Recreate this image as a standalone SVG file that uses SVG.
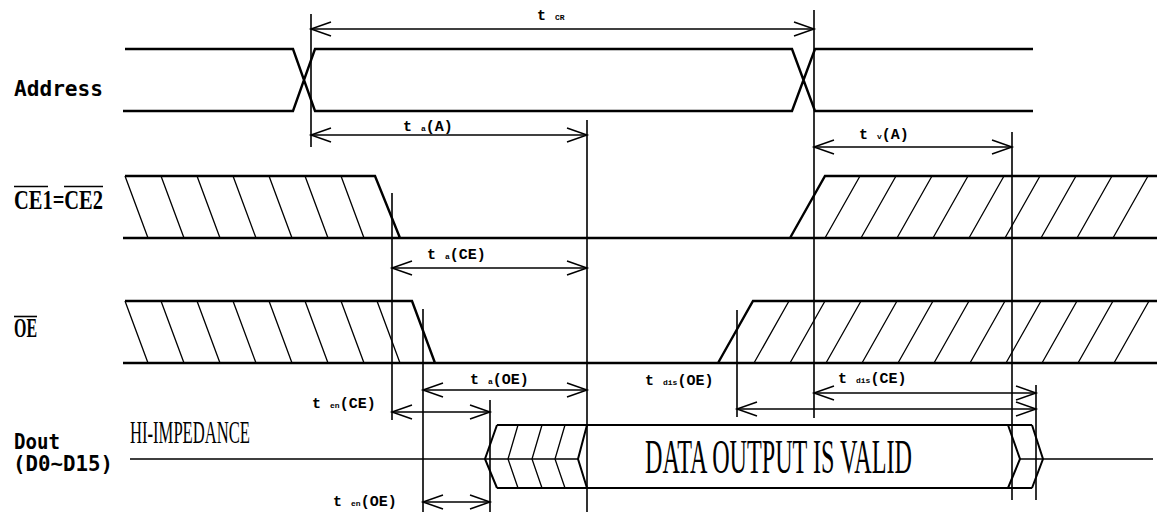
<svg xmlns="http://www.w3.org/2000/svg" width="1164" height="515" viewBox="0 0 1164 515">
<defs>
<marker id="ah" markerUnits="userSpaceOnUse" markerWidth="30" markerHeight="20" viewBox="-22 -10 24 20" refX="0" refY="0" orient="auto-start-reverse">
<path d="M-20,-7 L0,0 L-20,7" fill="none" stroke="#000" stroke-width="1.5"/>
</marker>
</defs>
<style>
.sig{fill:none;stroke:#000;stroke-width:2.4;stroke-linejoin:miter}
.hat{fill:none;stroke:#000;stroke-width:1.3}
.ref{fill:none;stroke:#000;stroke-width:1.6}
.dim{fill:none;stroke:#000;stroke-width:1.5;marker-start:url(#ah);marker-end:url(#ah)}
.lbl{font-family:"Liberation Mono","DejaVu Sans Mono",monospace;font-size:15px;font-weight:bold;fill:#000}
.sub{font-size:8px}
.name{font-family:"DejaVu Sans Mono","Liberation Mono",monospace;font-size:21px;font-weight:bold;fill:#000}
.ser{font-family:"Liberation Serif","DejaVu Serif",serif;fill:#000}
</style>
<rect width="1164" height="515" fill="#fff"/>

<g id="address">
<text class="name" x="14" y="96" textLength="89" lengthAdjust="spacingAndGlyphs">Address</text>
<path class="sig" d="M125,49 H293 L315,111 H792 L815,49 H1033 M123,111 H293 L315,49 H792 L815,111 H1033"/>
</g>

<g id="ce">
<text class="ser" x="14" y="209" font-size="27" font-weight="bold" textLength="89" lengthAdjust="spacingAndGlyphs">CE1=CE2</text>
<path class="ref" d="M14,186.5 H48 M64,186.5 H103"/>
<path class="sig" d="M125,176 H375 L400,238 M123,238 H1157 M790,238 L825,176 H1157"/>
<path class="hat" d="M125,176 l23,62 M161,176 l23,62 M197,176 l23,62 M233,176 l23,62 M269,176 l23,62 M305,176 l23,62 M341,176 l23,62
M860,176 l-35,62 M896,176 l-35,62 M932,176 l-35,62 M968,176 l-35,62 M1004,176 l-35,62 M1040,176 l-35,62 M1076,176 l-35,62 M1112,176 l-35,62 M1148,176 l-35,62"/>
</g>

<g id="oe">
<text class="ser" x="14" y="337" font-size="27" font-weight="bold" textLength="23" lengthAdjust="spacingAndGlyphs">OE</text>
<path class="ref" d="M14,316.5 H37"/>
<path class="sig" d="M125,301 H412 L435,363 M123,363 H1157 M718,363 L753,301 H1157"/>
<path class="hat" d="M125,301 l23,62 M161,301 l23,62 M197,301 l23,62 M233,301 l23,62 M269,301 l23,62 M305,301 l23,62 M341,301 l23,62 M377,301 l23,62
M789,301 l-35,62 M825,301 l-35,62 M861,301 l-35,62 M897,301 l-35,62 M933,301 l-35,62 M969,301 l-35,62 M1005,301 l-35,62 M1041,301 l-35,62 M1077,301 l-35,62 M1113,301 l-35,62 M1149,301 l-35,62"/>
</g>

<g id="dout">
<text class="name" x="14" y="449" font-size="20" textLength="46" lengthAdjust="spacingAndGlyphs">Dout</text>
<text class="name" x="13" y="471" font-size="20" textLength="100" lengthAdjust="spacingAndGlyphs">(D0~D15)</text>
<text class="ser" x="130" y="443" font-size="32" textLength="120" lengthAdjust="spacingAndGlyphs">HI-IMPEDANCE</text>
<path class="ref" d="M130,459 H485 M485,459 H578 M1020,459 H1153"/>
<path class="sig" style="stroke-width:2" d="M497,425 L485,459 L497,488 M497,425 H1032 M497,488 H1032 M1008,425 L1020,459 L1008,488 M1032,425 L1043,459 L1032,488 M587,425 L578,459 L587,488"/>
<path class="hat" d="M518,425 L508,459 L518,488 M542,425 L532,459 L542,488 M565,425 L555,459 L565,488"/>
<text class="ser" x="645" y="473" font-size="48" textLength="267" lengthAdjust="spacingAndGlyphs">DATA OUTPUT IS VALID</text>
</g>

<g id="connectors">
<path class="ref" d="M311,14 V147 M587,120 V512 M814,10 V418 M1012,132 V500 M392,193 V420 M423,309 V512 M737,310 V417 M490,400 V512 M1036,385 V500"/>
<line class="dim" x1="311" y1="29" x2="814" y2="29"/>
<line class="dim" x1="311" y1="135" x2="587" y2="135"/>
<line class="dim" x1="814" y1="147" x2="1012" y2="147"/>
<line class="dim" x1="392" y1="268" x2="587" y2="268"/>
<line class="dim" x1="423" y1="390" x2="587" y2="390"/>
<line class="dim" x1="814" y1="393" x2="1036" y2="393"/>
<line class="dim" x1="737" y1="409" x2="1036" y2="409"/>
<line class="dim" x1="392" y1="412" x2="490" y2="412"/>
<line class="dim" x1="423" y1="502" x2="490" y2="502"/>
</g>

<g id="labels">
<text class="lbl" x="537" y="20">t <tspan class="sub">CR</tspan></text>
<text class="lbl" x="403" y="131">t <tspan class="sub">a</tspan>(A)</text>
<text class="lbl" x="859" y="139">t <tspan class="sub">v</tspan>(A)</text>
<text class="lbl" x="427" y="259">t <tspan class="sub">a</tspan>(CE)</text>
<text class="lbl" x="470" y="384">t <tspan class="sub">a</tspan>(OE)</text>
<text class="lbl" x="645" y="385">t <tspan class="sub">dis</tspan>(OE)</text>
<text class="lbl" x="838" y="383">t <tspan class="sub">dis</tspan>(CE)</text>
<text class="lbl" x="312" y="408">t <tspan class="sub">en</tspan>(CE)</text>
<text class="lbl" x="333" y="506">t <tspan class="sub">en</tspan>(OE)</text>
</g>
</svg>
